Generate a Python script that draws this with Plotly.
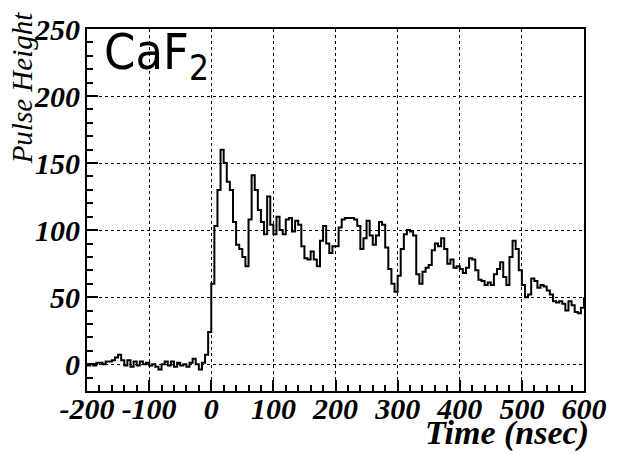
import plotly.graph_objects as go

# Time bins (ns), 5 ns steps
time_ns = list(range(-200, 605, 5))
pulse_height = [
    -1, 0, -1, 1, 1, 0, 2, 2, 3, 5,          # -200 .. -155
    7, 3, -1, 3, -2, 2, -1, 2, 0, 1,          # -150 .. -105
    -1, 0, -2, -4, 0, 2, -1, 2, -2, 1,        # -100 .. -55
    -1, 0, -2, 1, 4, 0, -4, 1, 7, 24,         # -50 .. -5
    60, 103, 130, 160, 150, 136, 130, 106, 89, 86,   # 0 .. 45
    80, 73, 108, 141, 130, 115, 106, 97, 125, 104,   # 50 .. 95
    97, 110, 100, 97, 108, 109, 99, 107, 104, 88,    # 100 .. 145
    79, 78, 84, 78, 73, 92, 103, 90, 83, 88,         # 150 .. 195
    88, 102, 108, 109, 109, 109, 108, 103, 86, 94,   # 200 .. 245
    107, 96, 89, 96, 106, 104, 87, 71, 60, 54,       # 250 .. 295
    66, 86, 97, 100, 99, 96, 67, 60, 69, 72,         # 300 .. 345
    74, 85, 90, 88, 94, 86, 75, 78, 72, 73,          # 350 .. 395
    71, 68, 72, 79, 78, 70, 63, 62, 59, 61,          # 400 .. 445
    59, 67, 71, 76, 65, 59, 80, 92, 86, 70,          # 450 .. 495
    59, 50, 52, 64, 62, 57, 59, 58, 55, 52,          # 500 .. 545
    47, 46, 47, 45, 40, 47, 44, 39, 38, 42,          # 550 .. 595
    50,                                              # 600
]

x_ticks = [-200, -100, 0, 100, 200, 300, 400, 500, 600]
y_ticks = [0, 50, 100, 150, 200, 250]

fig = go.Figure()
fig.add_trace(go.Scatter(
    x=time_ns, y=pulse_height, mode="lines",
    line=dict(color="black", width=2, shape="hv"),
    showlegend=False, hoverinfo="skip",
))

tickfont = dict(family="Liberation Serif", size=30, color="black",
                weight="bold", style="italic")

axis_common = dict(
    showline=True, linecolor="black", linewidth=2, mirror=True,
    ticks="inside", ticklen=11, tickwidth=2, tickcolor="black",
    showgrid=True, gridcolor="black", gridwidth=1, griddash="dot",
    zeroline=False, tickfont=tickfont, ticklabeloverflow="allow",
)

fig.update_xaxes(
    range=[-200, 600], tickvals=x_ticks, ticktext=[str(v) for v in x_ticks],
    ticklabelstandoff=-10,
    minor=dict(dtick=20, tick0=0, ticks="inside", ticklen=6, tickwidth=2,
               tickcolor="black", showgrid=False),
    **axis_common,
)
fig.update_yaxes(
    range=[-20, 250], tickvals=y_ticks, ticktext=[str(v) for v in y_ticks],
    ticklabelstandoff=-1,
    minor=dict(dtick=10, tick0=0, ticks="inside", ticklen=6, tickwidth=2,
               tickcolor="black", showgrid=False),
    **axis_common,
)

W, H = 619, 454
L, R, T, B = 87, 26, 16, 63
pw, ph = W - L - R, H - T - B

fig.add_annotation(
    text="Pulse Height", textangle=-90, showarrow=False,
    xref="paper", yref="paper",
    x=(21 - L) / pw, y=1 + (T + 4) / ph, xanchor="center", yanchor="top",
    font=dict(family="Liberation Serif", size=29, color="black", style="italic"),
)
fig.add_annotation(
    text="Time (nsec)", showarrow=False,
    xref="paper", yref="paper",
    x=1 + (600 - (W - R)) / pw, y=-(456 - 391) / ph,
    xanchor="right", yanchor="bottom",
    font=dict(family="Liberation Serif", size=34, color="black",
              weight="bold", style="italic"),
)
fig.add_annotation(
    text="CaF<sub>2</sub>", showarrow=False,
    xref="paper", yref="paper",
    x=(102 - L) / pw, y=1 - (8 - T) / ph, xanchor="left", yanchor="top",
    font=dict(family="DejaVu Sans Condensed, Noto Sans", size=50, color="black"),
)

fig.update_layout(
    width=W, height=H,
    margin=dict(l=L, r=R, t=T, b=B, pad=0),
    paper_bgcolor="white", plot_bgcolor="white",
)

fig.write_html("out.html")
